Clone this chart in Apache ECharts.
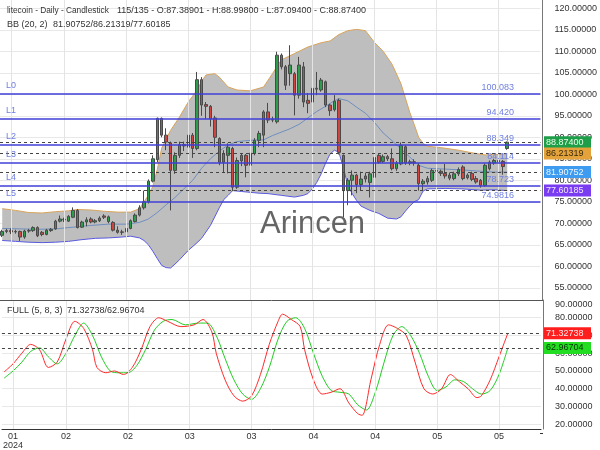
<!DOCTYPE html>
<html><head><meta charset="utf-8">
<script src="https://cdn.jsdelivr.net/npm/echarts@6/dist/echarts.min.js"></script>
<style>html,body{margin:0;padding:0;background:#fff}#c{width:600px;height:450px}</style>
</head><body><div id="c"></div>
<script>
// ---- data ----
const N_SLOTS = 122;
const categories = [];
for (let i = 0; i < N_SLOTS; i++) { const d = new Date(2024, 0, 27 + i); categories.push(d.getFullYear() + '-' + (d.getMonth() + 1) + '-' + d.getDate()); }
const tickIdx = [2, 14, 28, 42, 56, 70, 84, 98, 112];
const tickText = ['01\n2024', '02', '02', '03', '03', '04', '04', '05', '05'];
const priceTicks = [55, 60, 65, 70, 75, 80, 85, 90, 95, 100, 105, 110, 115, 120];
const stochTicks = [20, 30, 40, 50, 60, 70, 80];
// [open, close, low, high]
const candles = [
[67.2,68.1,66.8,68.5],[68.1,68.3,67.7,68.7],[68.3,68.0,67.5,68.8],[68.0,68.1,67.6,68.5],[68.1,66.8,65.9,68.3],
[66.8,68.2,66.4,68.5],[68.2,68.3,67.8,68.7],[68.3,69.0,68.0,69.3],[69.0,67.1,66.8,69.3],[67.9,67.4,67.0,68.2],
[67.4,68.4,67.2,68.7],[68.3,68.6,68.0,68.9],[68.7,70.5,68.5,70.8],[70.5,71.0,70.2,71.8],[70.9,70.8,70.3,71.3],
[70.5,71.6,70.3,71.9],[71.4,73.0,71.2,73.7],[73.0,69.0,68.8,73.3],[69.1,70.3,68.9,70.6],[70.3,70.8,69.3,71.4],
[71.0,70.3,70.0,71.4],[70.3,70.6,70.0,71.0],[70.6,71.2,70.3,71.6],[71.7,71.4,71.0,72.1],[70.4,71.5,70.0,71.8],
[70.2,68.4,68.1,70.5],[68.4,67.9,67.6,69.3],[67.9,68.0,67.3,68.5],[68.0,68.8,67.7,69.6],[68.8,70.6,68.6,70.9],
[70.4,71.9,70.2,72.3],[71.9,73.6,71.6,74.2],[73.6,75.0,73.2,77.6],[75.0,79.8,74.6,80.2],[79.8,85.0,79.5,85.8],
[84.8,94.4,84.2,94.6],[94.4,90.5,90.0,94.6],[90.5,88.9,87.0,92.1],[88.7,82.3,73.0,89.0],[82.3,85.8,81.5,86.5],
[85.8,88.3,85.2,89.0],[88.3,88.0,86.8,89.0],[87.7,90.5,87.2,91.4],[90.5,87.4,85.2,91.0],[87.4,103.4,87.0,105.2],
[103.4,97.5,95.0,104.0],[97.6,97.2,94.3,98.2],[97.2,94.3,92.5,97.5],[94.5,90.0,87.7,95.0],[89.7,84.2,83.5,90.0],
[84.2,86.2,81.9,87.0],[85.8,87.7,81.6,88.6],[87.4,78.4,77.5,87.8],[78.4,84.6,78.0,85.3],[84.5,85.8,83.3,86.2],
[85.8,83.5,80.7,86.1],[83.5,86.3,83.0,86.8],[86.2,89.3,85.8,89.8],[89.3,90.9,87.7,91.5],[90.5,95.9,87.7,96.3],
[95.9,94.0,93.3,98.0],[94.0,94.2,93.5,94.8],[93.6,109.1,93.2,109.9],[109.1,106.4,105.8,109.5],[106.4,102.1,101.0,106.8],
[104.8,106.8,102.0,111.4],[104.8,99.8,95.1,105.2],[99.8,106.8,99.0,108.7],[106.4,98.2,97.0,107.5],[98.6,97.9,95.6,100.3],
[98.2,101.4,97.8,101.8],[101.4,101.2,99.8,105.2],[101.0,103.3,100.6,103.8],[102.9,97.5,97.0,103.2],[97.5,96.2,95.0,97.8],
[96.4,98.4,96.0,99.8],[98.6,86.5,86.0,99.0],[85.8,77.6,71.4,86.0],[77.6,80.0,74.2,80.5],[80.0,81.2,76.5,82.3],
[81.2,79.0,77.0,81.5],[79.0,80.3,77.6,82.0],[80.3,81.0,79.5,81.8],[79.5,81.5,76.0,82.0],[80.7,85.3,80.2,85.8],
[85.8,84.2,83.8,86.3],[84.4,85.5,84.0,86.0],[85.5,85.0,84.5,85.9],[85.0,82.7,82.3,87.4],[82.7,84.0,82.2,84.5],
[83.8,88.1,83.5,88.8],[87.8,84.0,83.6,88.2],[84.0,84.3,83.5,84.8],[84.3,84.0,83.4,84.9],[83.5,79.2,77.6,84.0],
[79.2,79.8,77.6,80.3],[79.6,80.4,79.0,81.0],[80.0,82.3,79.6,82.7],[82.3,82.1,81.5,82.7],[82.1,81.6,81.0,82.5],
[81.6,81.0,80.4,83.8],[81.2,80.5,80.0,81.8],[80.4,81.5,80.0,82.0],[81.5,82.5,81.0,83.0],[83.1,80.4,80.0,83.5],
[80.6,81.2,80.2,81.6],[81.6,80.2,79.8,82.0],[80.4,79.6,79.2,81.0],[80.0,78.8,78.3,80.3],[78.8,83.5,78.5,83.9],
[82.7,84.2,82.3,84.6],[84.0,84.6,83.6,85.0],[84.6,84.3,84.0,85.0],[84.4,83.2,81.3,84.7],[87.389,88.874,87.094,88.998]
];
const bbUpper = [[0,73.4],[3,73.0],[6,72.5],[9,72.4],[12,72.7],[15,72.9],[17,73.2],[20,73.1],[23,72.8],[26,72.6],[29,72.6],[31,73.4],[32,75.0],[33,76.5],[34,78.6],[35,82.5],[36,87.5],[37,89.5],[38,91.6],[40,94.7],[42,98.2],[44,101.0],[45,103.0],[46,104.5],[48,104.8],[49,104.0],[51,101.7],[53,101.0],[56,100.8],[59,101.7],[61,104.8],[63,108.0],[66,109.5],[69,111.0],[72,112.0],[74,112.4],[76,113.9],[78,114.8],[80,115.1],[82,114.8],[84,112.1],[86,110.0],[88,107.0],[90,102.5],[92,95.8],[93,93.0],[94,90.0],[95,88.6],[96,87.9],[99,87.6],[103,87.0],[106,86.4],[109,85.9],[112,86.0],[114,86.21319]];
const bbMid = [[0,68.8],[4,68.7],[8,68.6],[12,68.7],[16,69.1],[20,69.5],[24,69.8],[28,69.8],[31,70.2],[33,71.0],[35,72.5],[37,74.3],[39,76.0],[41,78.0],[43,80.0],[45,82.8],[47,85.0],[49,86.8],[51,88.2],[53,89.0],[56,89.3],[59,89.4],[61,90.4],[63,91.2],[65,92.0],[67,93.0],[69,94.5],[71,96.0],[73,97.2],[75,98.5],[76,99.0],[78,98.5],[80,97.0],[82,95.6],[84,93.5],[86,91.0],[88,89.2],[90,87.3],[92,85.4],[94,83.5],[96,82.8],[100,82.6],[104,82.4],[108,82.1],[111,81.9],[114,81.90752]];
const bbLower = [[0,66.0],[3,65.8],[6,65.6],[9,65.5],[12,65.6],[15,65.8],[18,66.2],[21,66.5],[24,66.6],[27,66.8],[29,67.0],[31,66.6],[32,66.0],[33,65.0],[34,63.5],[35,61.8],[36,60.2],[37,59.7],[38,59.6],[39,60.5],[40,61.5],[42,63.7],[44,65.5],[45,66.5],[47,69.5],[49,73.6],[50,75.5],[51,76.5],[52,77.6],[54,77.4],[56,77.2],[58,77.0],[60,76.9],[63,76.5],[66,76.1],[68,76.5],[69,76.9],[70,78.0],[71,79.5],[72,81.5],[73,84.0],[74,86.1],[75,87.0],[76,86.5],[77,83.0],[78,78.8],[79,76.9],[80,75.3],[81,74.0],[83,73.0],[85,72.3],[87,71.2],[89,71.0],[90,71.5],[91,72.8],[92,74.0],[93,75.0],[94,75.5],[95,77.5],[96,78.0],[100,78.1],[104,78.0],[108,77.7],[111,77.8],[114,77.60185]];
const stochK = [[0,49.5],[2,54],[4,60],[6,65],[8,62],[10,52],[12,55],[14,68],[16,78],[18,74],[20,62],[21,52],[23,49],[25,50],[27,48],[29,52],[31,62],[33,75],[35,80],[37,78],[40,75],[43,76],[45,79],[47,72],[48,60],[50,45],[52,36],[54,33],[56,36],[58,48],[60,65],[62,78],[63,82],[65,79],[67,75],[68,62],[70,45],[72,37],[74,38],[76,40],[78,32],[80,26],[81,25],[83,45],[85,65],[87,76],[89,74],[91,70],[93,55],[95,40],[97,37],[99,40],[101,48],[103,44],[105,40],[107,35],[108,36],[110,45],[112,58],[114,71.32738]];
const stochD = [[0,46],[2,50],[4,55],[6,61],[8,63],[10,58],[12,54],[14,60],[16,70],[18,77],[20,70],[22,58],[24,50],[26,49],[28,49],[30,53],[32,62],[34,73],[36,78],[38,79],[41,76],[44,77],[46,77],[48,70],[50,57],[52,45],[54,37],[56,34],[58,40],[60,52],[62,68],[64,78],[66,80],[68,74],[70,60],[72,47],[74,39],[76,38],[78,37],[80,31],[82,28],[84,38],[86,55],[88,70],[90,75],[92,70],[94,60],[96,47],[98,39],[100,41],[102,45],[104,44],[106,40],[108,37],[110,39],[112,48],[114,62.96704]];
const levelNames = ['L0', 'L1', 'L2', 'L3', 'L4', 'L5'];
const levelValues = [100.083, 94.420, 88.349, 84.114, 78.723, 74.9816];
const levelText = ['100.083', '94.420', '88.349', '84.114', '78.723', '74.9816'];
const lastPrice = 88.874;
const lastBB = [86.21319, 81.90752, 77.60185];
const lastStoch = [71.32738, 62.96704];

// ---- chart ----
const FONT = '"Liberation Sans", Arial, sans-serif';
const chart = echarts.init(document.getElementById('c'), null, { renderer: 'canvas' });
const vLines = tickIdx.map(i => ({ xAxis: i }));
const vLineStyle = { color: '#e4e4e4', width: 1, type: 'solid' };
const dotted = { color: '#444', width: 1, type: [3, 3] };

chart.setOption({
  animation: false,
  backgroundColor: '#fff',
  grid: [
    { left: 0, top: 0, width: 541, height: 300 },
    { left: 0, top: 300, width: 541, height: 133 }
  ],
  xAxis: [
    { type: 'category', gridIndex: 0, data: categories, boundaryGap: true,
      axisLine: { show: false }, axisTick: { show: false }, axisLabel: { show: false }, splitLine: { show: false } },
    { type: 'category', gridIndex: 1, data: categories, boundaryGap: true,
      axisLine: { show: true, lineStyle: { color: '#333', width: 1 } }, axisTick: { show: false },
      axisLabel: { show: true, interval: (idx) => tickIdx.indexOf(idx) >= 0, formatter: (v, idx) => tickText[tickIdx.indexOf(idx)] || '',
        color: '#333', fontSize: 9, fontFamily: FONT, margin: 3, lineHeight: 9 },
      splitLine: { show: false } }
  ],
  yAxis: [
    { type: 'value', gridIndex: 0, position: 'right', offset: 2, min: 52.16, max: 121.93, scale: true,
      axisLine: { show: true, lineStyle: { color: '#777' } },
      axisTick: { show: false, customValues: priceTicks },
      axisLabel: { customValues: priceTicks, formatter: v => v.toFixed(5), color: '#333', fontSize: 9, fontFamily: FONT, margin: 12 },
      splitLine: { show: true, lineStyle: { color: '#e8e8e8' } } },
    { type: 'value', gridIndex: 1, position: 'right', offset: 2, min: 17.3, max: 90,
      axisLine: { show: true, lineStyle: { color: '#777' } },
      axisTick: { show: false, customValues: stochTicks },
      axisLabel: { customValues: stochTicks, formatter: v => v.toFixed(5), color: '#333', fontSize: 9, fontFamily: FONT, margin: 12 },
      splitLine: { show: true, lineStyle: { color: '#e8e8e8' } } }
  ],
  series: [
    { type: 'custom', name: 'bbfill', xAxisIndex: 0, yAxisIndex: 0, data: [[0, 80]], z: 1, silent: true,
      renderItem: (params, api) => {
        const pts = bbUpper.map(p => api.coord(p)).concat(bbLower.slice().reverse().map(p => api.coord(p)));
        return { type: 'polygon', shape: { points: pts }, style: { fill: '#bebebe' } };
      } },
    { type: 'line', name: 'vgrid', xAxisIndex: 0, yAxisIndex: 0, data: [], z: 0, silent: true,
      markLine: { silent: true, symbol: 'none', label: { show: false }, lineStyle: vLineStyle, data: vLines } },
    { type: 'line', name: 'vgrid2', xAxisIndex: 1, yAxisIndex: 1, data: [], z: 0, silent: true,
      markLine: { silent: true, symbol: 'none', label: { show: false }, lineStyle: vLineStyle, data: vLines } },
    { type: 'line', name: 'bbUpper', xAxisIndex: 0, yAxisIndex: 0, data: bbUpper, showSymbol: false, z: 3, silent: true,
      lineStyle: { color: '#d9a45a', width: 1 } },
    { type: 'line', name: 'bbLower', xAxisIndex: 0, yAxisIndex: 0, data: bbLower, showSymbol: false, z: 3, silent: true,
      lineStyle: { color: '#5a5ae0', width: 1 } },
    { type: 'line', name: 'bbMid', xAxisIndex: 0, yAxisIndex: 0, data: bbMid, showSymbol: false, z: 3, silent: true,
      lineStyle: { color: '#6f8fc0', width: 1 } },
    { type: 'candlestick', name: 'ltc', xAxisIndex: 0, yAxisIndex: 0, data: candles, barWidth: 3, z: 4,
      itemStyle: { color: '#2c9e4b', color0: '#d0453f', borderColor: '#4a4a4a', borderColor0: '#4a4a4a', borderWidth: 1 },
      markLine: { silent: true, symbol: 'none', label: { show: false }, z: 6,
        data: levelValues.map(v => ({ yAxis: v, lineStyle: { color: '#3f3fd8', width: 1.5, type: 'solid' } }))
          .concat([lastPrice].concat(lastBB).map(v => ({ yAxis: v, lineStyle: dotted }))) } },
    { type: 'line', name: 'K', xAxisIndex: 1, yAxisIndex: 1, data: stochK, showSymbol: false, smooth: 0.3, z: 4,
      lineStyle: { color: '#ff2a2a', width: 1 },
      markLine: { silent: true, symbol: 'none', label: { show: false },
        data: lastStoch.map(v => ({ yAxis: v, lineStyle: dotted })) } },
    { type: 'line', name: 'D', xAxisIndex: 1, yAxisIndex: 1, data: stochD, showSymbol: false, smooth: 0.3, z: 3,
      lineStyle: { color: '#22cc22', width: 1 } }
  ]
});

// ---- texts & tags placed through the axes ----
const yPx = (v, ax) => chart.convertToPixel({ yAxisIndex: ax }, v);
const g = [];
const txt = (x, y, s, o) => g.push({ type: 'text', x: x, y: y, z: 10, style: Object.assign({ text: s, fill: '#333', font: '9px ' + FONT, textVerticalAlign: 'middle' }, o || {}) });
txt(7, 11, 'litecoin - Daily - Candlestick', { font: '8.3px ' + FONT });
txt(117, 11, '115/135 - O:87.38901 - H:88.99800 - L:87.09400 - C:88.87400');
txt(7, 25, 'BB (20, 2)');
txt(53, 25, lastBB[1].toFixed(5) + '/' + lastBB[0].toFixed(5) + '/' + lastBB[2].toFixed(5));
txt(7, 311, 'FULL (5, 8, 3)');
txt(67, 311, lastStoch[0].toFixed(5) + '/' + lastStoch[1].toFixed(5));
txt(555, 305, '90.00000');
levelValues.forEach((v, k) => {
  const y = yPx(v, 0);
  txt(6, y - 8, levelNames[k], { fill: '#6f7fe0' });
  txt(514, y - 6, levelText[k], { fill: '#6f7fe0', textAlign: 'right' });
});
// watermark
g.push({ type: 'text', x: 260, y: 224, z: 2, style: { text: 'Arincen', fill: '#656565', font: '31px ' + FONT, textVerticalAlign: 'middle' } });
// right axis tags
const tag = (v, ax, bg, fg) => {
  const y = yPx(v, ax);
  g.push({ type: 'rect', x: 544, y: y - 6, z: 11, shape: { width: 47, height: 12 }, style: { fill: bg } });
  g.push({ type: 'text', x: 546, y: y, z: 12, style: { text: v.toFixed(5), fill: fg, font: '9px ' + FONT, textVerticalAlign: 'middle' } });
};
tag(lastPrice, 0, '#1f9e4a', '#e8ffe8');
tag(lastBB[0], 0, '#e3a23a', '#3a2a10');
tag(lastBB[1], 0, '#3d9cf0', '#eef6ff');
tag(lastBB[2], 0, '#7a3cf0', '#f0e8ff');
tag(lastStoch[0], 1, '#ff1e1e', '#ffe8e8');
tag(lastStoch[1], 1, '#22dd22', '#0a300a');
// panel separator and bottom axis join
g.push({ type: 'line', z: 9, shape: { x1: 0, y1: 300.5, x2: 543, y2: 300.5 }, style: { stroke: '#555', lineWidth: 1 } });
g.push({ type: 'line', z: 9, shape: { x1: 540, y1: 433.5, x2: 543, y2: 433.5 }, style: { stroke: '#333', lineWidth: 1 } });
chart.setOption({ graphic: { elements: g } });
</script></body></html>
